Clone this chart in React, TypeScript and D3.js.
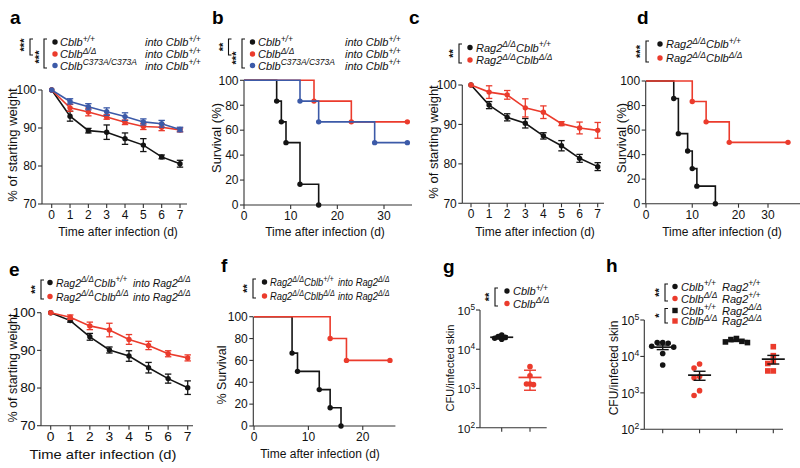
import React from "react";
import * as d3 from "d3";

const FONT = "Arial, 'Liberation Sans', Helvetica, sans-serif";
const BLACK = "#141414";
const RED = "#eb3b2c";
const BLUE = "#3c5aa8";
const AXIS = "#333333";

type Seg = [string, boolean?];

// ---------------- data ----------------
const days = [0, 1, 2, 3, 4, 5, 6, 7];
const weightTicks = [70, 80, 90, 100];
const survivalTicks = [0, 20, 40, 60, 80, 100];
const cfuExponents = [2, 3, 4, 5];

// panel a
const aWT = [100, 93.1, 89.3, 88.9, 87.2, 85.5, 82.4, 80.6];
const aWTErr = [0, 1.3, 0.6, 1.9, 1.5, 1.7, 0.5, 0.9];
const aDelta = [100, 95.3, 94.2, 92.9, 91.5, 90.4, 90.2, 89.5];
const aDeltaErr = [0, 0.9, 1.0, 0.6, 0.6, 0.8, 0.9, 0.5];
const aCA = [100, 97.0, 95.6, 94.3, 93.0, 91.6, 91.1, 89.6];
const aCAErr = [0, 0.7, 0.8, 1.0, 1.0, 0.8, 0.9, 0.6];

// panel c
const cWT = [100, 94.9, 91.8, 90.3, 87.1, 84.6, 81.4, 79.3];
const cWTErr = [0, 0.9, 0.9, 1.2, 0.8, 1.3, 1.0, 1.0];
const cDelta = [100, 98.2, 97.5, 94.2, 93.1, 90.2, 89.1, 88.5];
const cDeltaErr = [0, 1.6, 1.1, 2.3, 1.6, 0.5, 1.5, 2.0];

// panel e
const eWT = [100, 97.9, 93.6, 90.1, 88.5, 85.4, 82.5, 80.1];
const eWTErr = [0, 0.4, 0.9, 0.8, 1.4, 1.4, 1.2, 1.8];
const eDelta = [100, 98.8, 96.5, 95.4, 92.9, 91.3, 89.1, 88.0];
const eDeltaErr = [0, 0.6, 1.0, 1.8, 1.3, 1.1, 0.8, 0.8];

// panel b (survival, %)
const bWTTime = [0, 7, 8, 9, 12, 16];
const bWTSurv = [100, 83.3, 66.7, 50, 16.7, 0];
const bDeltaTime = [0, 15, 23, 35];
const bDeltaSurv = [100, 83.3, 66.7, 66.7];
const bCATime = [0, 12, 16, 28, 35];
const bCASurv = [100, 83.3, 66.7, 50, 50];

// panel d
const dWTTime = [0, 6, 7, 9, 10, 11, 15];
const dWTSurv = [100, 85.7, 57.1, 42.9, 28.6, 14.3, 0];
const dDeltaTime = [0, 10, 13, 18, 35];
const dDeltaSurv = [100, 83.3, 66.7, 50, 50];

// panel f
const fWTTime = [0, 7, 8, 12, 14, 16];
const fWTSurv = [100, 66.7, 50, 33.3, 16.7, 0];
const fDeltaTime = [0, 14, 17, 25];
const fDeltaSurv = [100, 80, 60, 60];

// panel g (CFU / infected skin)
const gWT = [2.3e4, 2.1e4, 2.0e4, 1.8e4, 1.9e4];
const gDelta = [3.6e3, 2.1e3, 1.3e3, 1.3e3, 1.25e3];

// panel h
const hWTRagWT = [2.4e4, 2.4e4, 2.3e4, 1.9e4, 1.8e4, 1.2e4, 5.8e3];
const hDeltaRagWT = [6.2e3, 4.8e3, 2.8e3, 2.6e3, 1.15e3, 8.5e2];
const hWTRagDelta = [3.1e4, 2.9e4, 2.6e4, 2.5e4, 2.4e4];
const hDeltaRagDelta = [1.85e4, 1.05e4, 7.2e3, 6.4e3, 4.0e3, 4.0e3];

// legend texts
const lblCblbWT: Seg[] = [["Cblb"], ["+/+", true]];
const lblCblbDelta: Seg[] = [["Cblb"], ["Δ/Δ", true]];
const lblCblbCA: Seg[] = [["Cblb"], ["C373A/C373A", true]];
const lblIntoCblb: Seg[] = [["into Cblb"], ["+/+", true]];
const lblRagCblbWT: Seg[] = [["Rag2"], ["Δ/Δ", true], ["Cblb"], ["+/+", true]];
const lblRagCblbDelta: Seg[] = [["Rag2"], ["Δ/Δ", true], ["Cblb"], ["Δ/Δ", true]];
const lblIntoRag: Seg[] = [["into Rag2"], ["Δ/Δ", true]];
const lblRag2WT: Seg[] = [["Rag2"], ["+/+", true]];
const lblRag2Delta: Seg[] = [["Rag2"], ["Δ/Δ", true]];
const xTitle = "Time after infection (d)";

// ---------------- helpers ----------------
function Rich({ x, y, segs, size = 11, sup = 8.5, italic = true, anchor = "start", sx = 1 }: any) {
  const shift = size * 0.4;
  let raised = false;
  const spans = (segs as Seg[]).map(([t, isSup], i) => {
    let dy = 0;
    if (isSup && !raised) { dy = -shift; raised = true; }
    else if (!isSup && raised) { dy = shift; raised = false; }
    return (
      <tspan key={i} dy={dy} fontSize={isSup ? sup : size}>{t}</tspan>
    );
  });
  return (
    <text transform={`translate(${x},${y}) scale(${sx},1)`} fontFamily={FONT}
      fontStyle={italic ? "italic" : "normal"} textAnchor={anchor} fill="#111">
      {spans}
    </text>
  );
}

function Label({ x, y, t }: any) {
  return <text x={x} y={y} fontFamily={FONT} fontWeight="bold" fontSize={19} fill="#000">{t}</text>;
}

function Bracket({ x, y1, y2, stars, sx, sy }: any) {
  return (
    <g>
      <path d={`M${x + 3},${y1}H${x}V${y2}H${x + 3}`} fill="none" stroke="#111" strokeWidth={1.1} />
      <text transform={`translate(${sx + 4.5},${sy}) rotate(-90)`} textAnchor="middle"
        fontFamily={FONT} fontWeight="bold" fontSize={11} fill="#111">{stars}</text>
    </g>
  );
}

function Marker({ shape, x, y, color, r = 2.7 }: any) {
  if (shape === "square") return <rect x={x - r} y={y - r} width={2 * r} height={2 * r} fill={color} />;
  return <circle cx={x} cy={y} r={r} fill={color} />;
}

function Legend({ rows, markerX, textX, ys, colors, shapes, extra, extraX, sx = 1 }: any) {
  return (
    <g>
      {rows.map((segs: Seg[], i: number) => (
        <g key={i}>
          <Marker shape={shapes ? shapes[i] : "circle"} x={markerX} y={ys[i]} color={colors[i]} r={2.7} />
          <Rich x={textX} y={ys[i] + 4} segs={segs} sx={sx} />
          {extra && <Rich x={extraX} y={ys[i] + 4} segs={extra[i]} sx={sx} />}
        </g>
      ))}
    </g>
  );
}

function YTitle({ x, y, t, size = 12 }: any) {
  return (
    <text transform={`translate(${x},${y}) rotate(-90)`} textAnchor="middle" fontFamily={FONT}
      fontSize={size} fill="#111" dy="0.35em">{t}</text>
  );
}

function XTitle({ x, y, t, size = 12, sx = 1 }: any) {
  return (
    <text transform={`translate(${x},${y}) scale(${sx},1)`} textAnchor="middle" fontFamily={FONT}
      fontSize={size} fill="#111">{t}</text>
  );
}

// ---------------- weight panel ----------------
function WeightPanel({ axisX, x0, x7, xEnd, yTop, yBot, series, fs = 12, sx = 1 }: any) {
  const x = d3.scaleLinear().domain([0, 7]).range([x0, x7]);
  const y = d3.scaleLinear().domain([70, 100]).range([yBot, yTop]);
  const line = d3.line<number>().x((_, i) => x(days[i])).y((v) => y(v));
  return (
    <g>
      <line x1={axisX} x2={axisX} y1={yTop} y2={yBot} stroke={AXIS} strokeWidth={1.1} />
      <line x1={axisX} x2={xEnd} y1={yBot} y2={yBot} stroke={AXIS} strokeWidth={1.1} />
      {weightTicks.map((t) => (
        <g key={t}>
          <line x1={axisX - 4} x2={axisX} y1={y(t)} y2={y(t)} stroke={AXIS} strokeWidth={1.1} />
          <text transform={`translate(${axisX - 5.5},${y(t) + 4.3}) scale(${sx},1)`} textAnchor="end"
            fontFamily={FONT} fontSize={fs} fill="#111">{t}</text>
        </g>
      ))}
      {days.map((d) => (
        <g key={d}>
          <line x1={x(d)} x2={x(d)} y1={yBot} y2={yBot + 4} stroke={AXIS} strokeWidth={1.1} />
          <text transform={`translate(${x(d)},${yBot + 15}) scale(${sx},1)`} textAnchor="middle"
            fontFamily={FONT} fontSize={fs} fill="#111">{d}</text>
        </g>
      ))}
      {series.map((s: any, si: number) => (
        <g key={si}>
          <path d={line(s.values) as string} fill="none" stroke={s.color} strokeWidth={1.6} />
          {s.values.map((v: number, i: number) =>
            s.errs[i] > 0 ? (
              <g key={i} stroke={s.color} strokeWidth={1.3}>
                <line x1={x(days[i])} x2={x(days[i])} y1={y(v - s.errs[i])} y2={y(v + s.errs[i])} />
                <line x1={x(days[i]) - 3.2} x2={x(days[i]) + 3.2} y1={y(v - s.errs[i])} y2={y(v - s.errs[i])} />
                <line x1={x(days[i]) - 3.2} x2={x(days[i]) + 3.2} y1={y(v + s.errs[i])} y2={y(v + s.errs[i])} />
              </g>
            ) : null
          )}
          {s.values.map((v: number, i: number) => (
            <circle key={i} cx={x(days[i])} cy={y(v)} r={2.7} fill={s.color} />
          ))}
        </g>
      ))}
    </g>
  );
}

// ---------------- survival panel ----------------
function SurvivalPanel({ axisX, xScale, xEnd, xTicks, yTop, yBot, series, fs = 12 }: any) {
  const y = d3.scaleLinear().domain([0, 100]).range([yBot, yTop]);
  const line = d3.line<[number, number]>().x((p) => xScale(p[0])).y((p) => y(p[1])).curve(d3.curveStepAfter);
  return (
    <g>
      <line x1={axisX} x2={axisX} y1={yTop} y2={yBot} stroke={AXIS} strokeWidth={1.1} />
      <line x1={axisX} x2={xEnd} y1={yBot} y2={yBot} stroke={AXIS} strokeWidth={1.1} />
      {survivalTicks.map((t) => (
        <g key={t}>
          <line x1={axisX - 4} x2={axisX} y1={y(t)} y2={y(t)} stroke={AXIS} strokeWidth={1.1} />
          <text x={axisX - 5.5} y={y(t) + 4.3} textAnchor="end" fontFamily={FONT} fontSize={fs} fill="#111">{t}</text>
        </g>
      ))}
      {xTicks.map((t: number) => (
        <g key={t}>
          <line x1={xScale(t)} x2={xScale(t)} y1={yBot} y2={yBot + 4} stroke={AXIS} strokeWidth={1.1} />
          <text x={xScale(t)} y={yBot + 15} textAnchor="middle" fontFamily={FONT} fontSize={fs} fill="#111">{t}</text>
        </g>
      ))}
      {series.map((s: any, si: number) => {
        const pts: [number, number][] = s.time.map((t: number, i: number) => [t, s.surv[i]]);
        return (
          <g key={si}>
            <path d={line(pts) as string} fill="none" stroke={s.color} strokeWidth={1.6} />
            {pts.slice(1).map((p, i) => (
              <circle key={i} cx={xScale(p[0])} cy={y(p[1])} r={2.7} fill={s.color} />
            ))}
          </g>
        );
      })}
    </g>
  );
}

// ---------------- CFU panel ----------------
function dodge(vals: number[], yS: any, step: number, minD: number) {
  const placed: { dx: number; y: number }[] = [];
  return vals.map((v) => {
    const yy = yS(v);
    for (let k = 0; k < 30; k++) {
      const c = k === 0 ? 0 : (k % 2 ? -1 : 1) * Math.ceil(k / 2) * step;
      if (placed.every((p) => Math.hypot(p.dx - c, p.y - yy) >= minD)) {
        placed.push({ dx: c, y: yy });
        return c;
      }
    }
    return 0;
  });
}

function CfuPanel({ axisX, xEnd, yTop, yBot, groups, range, errType, fs = 12, step = 5, minD = 5 }: any) {
  const y = d3.scaleLog().domain([1e2, 1e5]).range([yBot, yTop]);
  const x = d3.scalePoint().domain(groups.map((g: any) => g.name)).range(range);
  return (
    <g>
      <line x1={axisX} x2={axisX} y1={yTop} y2={yBot} stroke={AXIS} strokeWidth={1.1} />
      <line x1={axisX} x2={xEnd} y1={yBot} y2={yBot} stroke={AXIS} strokeWidth={1.1} />
      {cfuExponents.map((e) => (
        <g key={e}>
          <line x1={axisX - 4} x2={axisX} y1={y(10 ** e)} y2={y(10 ** e)} stroke={AXIS} strokeWidth={1.1} />
          <Rich x={axisX - 5} y={y(10 ** e) + 4.8} segs={[["10"], [String(e), true]]} size={fs} sup={fs * 0.72}
            italic={false} anchor="end" />
        </g>
      ))}
      {groups.map((g: any) => {
        const cx = x(g.name) as number;
        const m = d3.mean(g.values) as number;
        const sd = d3.deviation(g.values) as number;
        const err = errType === "sd" ? sd : sd / Math.sqrt(g.values.length);
        const offs = dodge(g.values, y, step, minD);
        return (
          <g key={g.name}>
            <line x1={cx} x2={cx} y1={yBot} y2={yBot + 4} stroke={AXIS} strokeWidth={1.1} />
            {g.values.map((v: number, i: number) => (
              <Marker key={i} shape={g.shape} x={cx + offs[i]} y={y(v)} color={g.color} r={2.8} />
            ))}
            <g stroke={g.errColor} strokeWidth={1.4}>
              <line x1={cx - 11.5} x2={cx + 11.5} y1={y(m)} y2={y(m)} strokeWidth={1.7} />
              <line x1={cx} x2={cx} y1={y(m - err)} y2={y(m + err)} />
              <line x1={cx - 6} x2={cx + 6} y1={y(m - err)} y2={y(m - err)} />
              <line x1={cx - 6} x2={cx + 6} y1={y(m + err)} y2={y(m + err)} />
            </g>
          </g>
        );
      })}
    </g>
  );
}

// ---------------- App ----------------
export default function App() {
  const bX = d3.scaleLinear().domain([0, 36]).range([244, 412]);
  const dX = d3.scaleLinear().domain([0, 20, 30, 38]).range([646, 738.5, 768, 800]);
  const fX = d3.scaleLinear().domain([0, 26]).range([254, 395.4]);

  return (
    <svg width={800} height={468} style={{ position: "absolute", left: 0, top: 0, background: "#fff" }}>
      <rect width={800} height={468} fill="#fff" />

      {/* ---- a ---- */}
      <Label x={10} y={24} t="a" />
      <Bracket x={30} y1={39} y2={55} stars="***" sx={23} sy={45} />
      <Bracket x={44} y1={39} y2={68} stars="***" sx={38} sy={57} />
      <Legend rows={[lblCblbWT, lblCblbDelta, lblCblbCA]} markerX={55} textX={60} ys={[42, 54, 65.5]}
        colors={[BLACK, RED, BLUE]} extra={[lblIntoCblb, lblIntoCblb, lblIntoCblb]} extraX={145} />
      <WeightPanel axisX={42} x0={51.7} x7={180} xEnd={187} yTop={90} yBot={204}
        series={[
          { values: aWT, errs: aWTErr, color: BLACK },
          { values: aDelta, errs: aDeltaErr, color: RED },
          { values: aCA, errs: aCAErr, color: BLUE },
        ]} />
      <YTitle x={12.5} y={145} t="% of starting weight" size={13} />
      <XTitle x={118} y={236} t={xTitle} size={12} />

      {/* ---- b ---- */}
      <Label x={212} y={24} t="b" />
      <Bracket x={228.5} y1={39} y2={55} stars="**" sx={222} sy={47} />
      <Bracket x={242} y1={39} y2={68} stars="***" sx={235.5} sy={58} />
      <Legend rows={[lblCblbWT, lblCblbDelta, lblCblbCA]} markerX={252.5} textX={258} ys={[42, 54, 65.5]}
        colors={[BLACK, RED, BLUE]} extra={[lblIntoCblb, lblIntoCblb, lblIntoCblb]} extraX={345} />
      <SurvivalPanel axisX={244} xScale={bX} xEnd={412} xTicks={[0, 10, 20, 30]} yTop={80.3} yBot={205}
        series={[
          { time: bWTTime, surv: bWTSurv, color: BLACK },
          { time: bDeltaTime, surv: bDeltaSurv, color: RED },
          { time: bCATime, surv: bCASurv, color: BLUE },
        ]} />
      <YTitle x={216} y={138} t="Survival (%)" size={13} />
      <XTitle x={325} y={236} t={xTitle} size={12} />

      {/* ---- c ---- */}
      <Label x={409} y={24} t="c" />
      <Bracket x={459} y1={44} y2={63} stars="**" sx={452} sy={53.5} />
      <Legend rows={[lblRagCblbWT, lblRagCblbDelta]} markerX={470} textX={476} ys={[47.5, 60]}
        colors={[BLACK, RED]} />
      <WeightPanel axisX={462.3} x0={471} x7={597.7} xEnd={604} yTop={85} yBot={203.3}
        series={[
          { values: cWT, errs: cWTErr, color: BLACK },
          { values: cDelta, errs: cDeltaErr, color: RED },
        ]} />
      <YTitle x={433} y={142} t="% of starting weight" size={13} />
      <XTitle x={535} y={236} t={xTitle} size={12} />

      {/* ---- d ---- */}
      <Label x={637} y={24} t="d" />
      <Bracket x={646} y1={41} y2={62} stars="***" sx={639} sy={51.5} />
      <Legend rows={[lblRagCblbWT, lblRagCblbDelta]} markerX={660} textX={666} ys={[44, 58]}
        colors={[BLACK, RED]} />
      <SurvivalPanel axisX={645.7} xScale={dX} xEnd={800} xTicks={[0, 10, 20, 30]} yTop={81} yBot={203.7}
        series={[
          { time: dWTTime, surv: dWTSurv, color: BLACK },
          { time: dDeltaTime, surv: dDeltaSurv, color: RED },
        ]} />
      <YTitle x={621} y={138} t="Survival (%)" size={13} />
      <XTitle x={722} y={236} t={xTitle} size={12} />

      {/* ---- e ---- */}
      <Label x={9} y={276} t="e" />
      <Bracket x={41} y1={280} y2={299} stars="**" sx={34} sy={289.5} />
      <Legend rows={[lblRagCblbWT, lblRagCblbDelta]} markerX={50} textX={56} ys={[282.5, 296.5]}
        colors={[BLACK, RED]} extra={[lblIntoRag, lblIntoRag]} extraX={133} sx={0.95} />
      <WeightPanel axisX={41} x0={50.7} x7={187.7} xEnd={193} yTop={312.7} yBot={425.7} sx={1.15}
        series={[
          { values: eWT, errs: eWTErr, color: BLACK },
          { values: eDelta, errs: eDeltaErr, color: RED },
        ]} />
      <YTitle x={12.5} y={368} t="% of starting weight" size={12.5} />
      <XTitle x={103} y={459} t={xTitle} size={12.5} sx={1.18} />

      {/* ---- f ---- */}
      <Label x={221} y={272} t="f" />
      <Bracket x={253} y1={279} y2={298} stars="**" sx={246} sy={288.5} />
      <Legend rows={[lblRagCblbWT, lblRagCblbDelta]} markerX={264.5} textX={270} ys={[282, 296]}
        colors={[BLACK, RED]} extra={[lblIntoRag, lblIntoRag]} extraX={338} sx={0.85} />
      <SurvivalPanel axisX={253.3} xScale={fX} xEnd={395.4} xTicks={[0, 10, 20]} yTop={316.7} yBot={426}
        series={[
          { time: fWTTime, surv: fWTSurv, color: BLACK },
          { time: fDeltaTime, surv: fDeltaSurv, color: RED },
        ]} />
      <YTitle x={222} y={375} t="% Survival" size={12.5} />
      <XTitle x={320} y={458} t={xTitle} size={12} />

      {/* ---- g ---- */}
      <Label x={443} y={273} t="g" />
      <Bracket x={495} y1={288} y2={306} stars="**" sx={488.5} sy={297} />
      <Legend rows={[lblCblbWT, lblCblbDelta]} markerX={507} textX={513} ys={[291, 303.5]}
        colors={[BLACK, RED]} />
      <CfuPanel axisX={480} xEnd={546.7} yTop={310} yBot={427.7} range={[501.7, 530]} errType="sd"
        step={3.5} minD={3.5} fs={11.5}
        groups={[
          { name: "g1", values: gWT, color: BLACK, errColor: BLACK, shape: "circle" },
          { name: "g2", values: gDelta, color: RED, errColor: RED, shape: "circle" },
        ]} />
      <YTitle x={450} y={368} t="CFU/infected skin" size={11} />

      {/* ---- h ---- */}
      <Label x={606} y={272} t="h" />
      <Bracket x={665} y1={284} y2={301} stars="**" sx={658} sy={292.5} />
      <Bracket x={665} y1={308.5} y2={323} stars="*" sx={658} sy={315.5} />
      <Legend rows={[lblCblbWT, lblCblbDelta, lblCblbWT, lblCblbDelta]} markerX={675} textX={681}
        ys={[286.5, 298.5, 310.5, 321]} colors={[BLACK, RED, BLACK, RED]}
        shapes={["circle", "circle", "square", "square"]}
        extra={[lblRag2WT, lblRag2WT, lblRag2Delta, lblRag2Delta]} extraX={722} />
      <CfuPanel axisX={644.3} xEnd={783} yTop={320} yBot={429.3} range={[662.7, 773.3]} errType="sem"
        step={5.5} minD={5} fs={12}
        groups={[
          { name: "h1", values: hWTRagWT, color: BLACK, errColor: BLACK, shape: "circle" },
          { name: "h2", values: hDeltaRagWT, color: RED, errColor: BLACK, shape: "circle" },
          { name: "h3", values: hWTRagDelta, color: BLACK, errColor: BLACK, shape: "square" },
          { name: "h4", values: hDeltaRagDelta, color: RED, errColor: BLACK, shape: "square" },
        ]} />
      <YTitle x={614} y={368} t="CFU/infected skin" size={12} />
    </svg>
  );
}
